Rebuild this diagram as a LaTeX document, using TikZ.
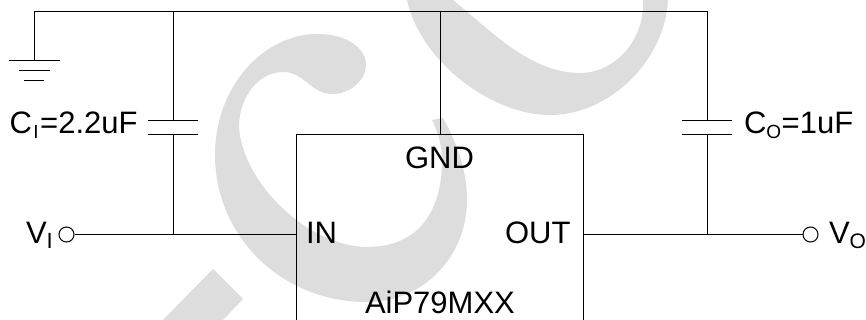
\documentclass[tikz,border=0pt]{standalone}
\usepackage{fontspec}
\setmainfont{Liberation Sans}
\newcommand{\lbl}{\fontsize{31}{31}\selectfont}
\newcommand{\subsc}[3]{\raisebox{#2pt}{\fontsize{#1}{#1}\selectfont #3}}
\tikzset{
  wire/.style={draw=black,line width=1pt},
  term/.style={circle,draw=black,line width=1pt,fill=white,minimum size=15pt,inner sep=0pt},
  tag/.style={inner sep=0pt,outer sep=0pt,anchor=base west,font=\lbl},
  wmark/.style={fill=black!13.5,draw=none}
}
\begin{document}
\begin{tikzpicture}[x=1pt,y=-1pt]
\useasboundingbox (0,0) rectangle (866,320);
% watermark
\fill[wmark] (443,118) .. controls (458,145) and (467,172) .. (467,200)
  .. controls (467,255) and (425,302) .. (367,302)
  .. controls (280,302) and (215,235) .. (215,155)
  .. controls (215,85) and (265,34) .. (317,34)
  .. controls (347,34) and (366,48) .. (366,65)
  .. controls (366,80) and (350,94) .. (333,94)
  .. controls (310,94) and (305,72) .. (283,72)
  .. controls (258,72) and (239,98) .. (239,127)
  .. controls (243,185) and (310,247) .. (367,247)
  .. controls (418,247) and (442,212) .. (442,160)
  .. controls (442,145) and (438,132) .. (432,120) -- cycle;
\fill[wmark] (407,0) .. controls (420,60) and (490,115) .. (550,115)
  .. controls (610,115) and (665,60) .. (668,0)
  -- (643,0) .. controls (645,40) and (615,73) .. (580,73)
  .. controls (530,73) and (490,30) .. (453,0) -- cycle;
\fill[wmark] (213,269) -- (243,299) -- (223,320) -- (163,320) -- cycle;
% coordinates
\coordinate (topL) at (34.5,11.5);
\coordinate (topR) at (707,11.5);
\coordinate (topC) at (173,11.5);
\coordinate (topG) at (440,11.5);
\coordinate (gnd) at (34.5,61);
\coordinate (capLa) at (173,120.5);
\coordinate (capLb) at (173,135);
\coordinate (capRa) at (707,120.5);
\coordinate (capRb) at (707,135);
\coordinate (jL) at (173,234.5);
\coordinate (jR) at (707,234.5);
\coordinate (pinI) at (296.5,234.5);
\coordinate (pinO) at (583.5,234.5);
\coordinate (pinG) at (440,135);
\coordinate (boxBL) at (296.5,320);
\coordinate (boxTL) at (296.5,135);
\coordinate (boxTR) at (583.5,135);
\coordinate (boxBR) at (583.5,320);
\node[term] (vi) at (66.5,234.5) {};
\node[term] (vo) at (810.5,234.5) {};
% wires
\draw[wire] (gnd) -- (topL) -- (topR) -- (capRa);
\draw[wire] (topC) -- (capLa);
\draw[wire] (capLb) -- (jL);
\draw[wire] (capRb) -- (jR);
\draw[wire] (topG) -- (pinG);
\draw[wire] (vi) -- (pinI);
\draw[wire] (pinO) -- (vo);
\draw[wire] (boxBL) -- (boxTL) -- (boxTR) -- (boxBR);
% ground
\draw[wire] (9,61) -- (59.5,61);
\draw[wire] (19,71) -- (49.5,71);
\draw[wire] (24,81) -- (43.5,81);
% capacitors
\draw[wire] (148,120.5) -- (198,120.5);
\draw[wire] (148,135) -- (198,135);
\draw[wire] (682,120.5) -- (732,120.5);
\draw[wire] (682,135) -- (732,135);
% labels
\node[tag] (ci) at (9.5,134) {C\kern1.5pt\subsc{19}{-5}{I}\kern1.5pt=2.2uF};
\node[tag] (co) at (744,134) {C\subsc{19}{-5}{O}\kern.5pt=1uF};
\node[tag] (vin) at (26,243.5) {V\subsc{22}{-5}{I}};
\node[tag] (von) at (829,243.5) {V\subsc{21}{-5}{O}};
\node[tag] (in) at (306,243.5) {IN};
\node[tag] (out) at (505,243.5) {OUT};
\node[tag] (g) at (405,168.5) {GND};
\node[tag] (chip) at (365,313) {AiP79MXX};
\end{tikzpicture}
\end{document}
